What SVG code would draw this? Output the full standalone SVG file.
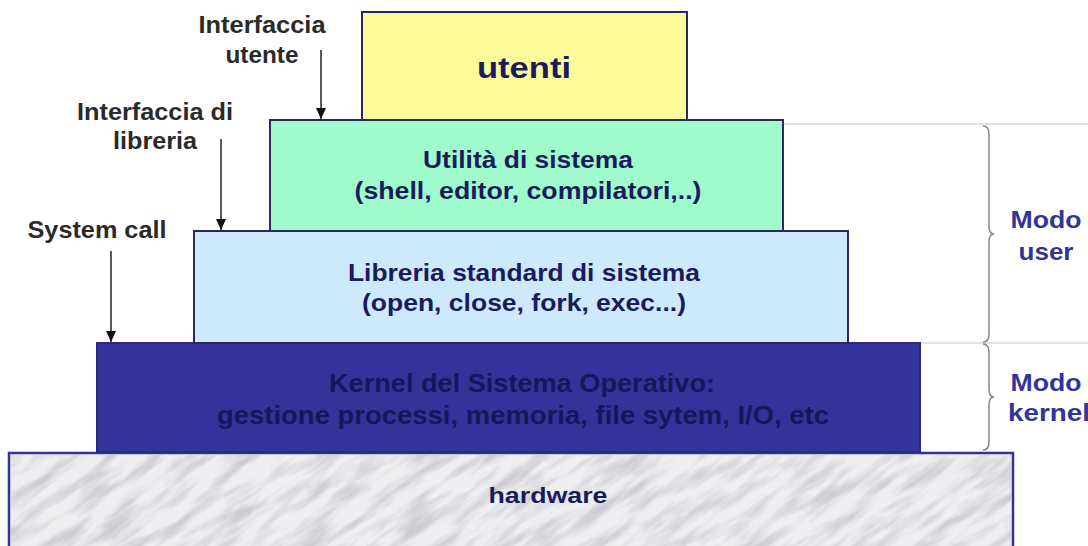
<svg xmlns="http://www.w3.org/2000/svg" width="1088" height="546" viewBox="0 0 1088 546">
<style>
.box{stroke:#2a2a5a;stroke-width:2}
.lbl{font-family:"Liberation Sans",Arial,sans-serif;font-weight:bold;text-anchor:middle}
.side{font-size:24px;fill:#2a2a2a}
.boxt{font-size:24px;fill:#1a1a5c}
.kt{font-size:25px;fill:#16165e}
.mode{font-size:24px;fill:#333399}
.arr{stroke:#222;stroke-width:1.5;fill:none}
.guide{stroke:#d8d8d8;stroke-width:1.5}
.brace{stroke:#888;stroke-width:1.5;fill:none}
</style>
<defs>
<marker id="ah" markerWidth="11" markerHeight="10" refX="11" refY="5" orient="auto" markerUnits="userSpaceOnUse" viewBox="0 0 11 10">
<path d="M0,0 L11,5 L0,10 z" fill="#111"/>
</marker>
<filter id="marble" x="0" y="0" width="100%" height="100%">
<feTurbulence type="fractalNoise" baseFrequency="0.02 0.09" numOctaves="4" seed="7" result="n"/>
<feColorMatrix in="n" type="matrix" values="0 0 0 0 0.52  0 0 0 0 0.52  0 0 0 0 0.56  2.4 0 0 0 -0.95" result="c"/>
<feComposite in="c" in2="SourceGraphic" operator="in"/>
</filter>
<clipPath id="hwclip"><rect x="10" y="454" width="1002" height="98"/></clipPath>
</defs>
<rect width="1088" height="546" fill="#ffffff"/>
<g id="guides">
<line class="guide" x1="783" y1="124" x2="1088" y2="124"/>
<line class="guide" x1="920" y1="343" x2="1088" y2="343"/>
</g>
<g id="hardware">
<rect x="9" y="453" width="1004" height="100" fill="#efeff1" stroke="#333399" stroke-width="2.5"/>
<g clip-path="url(#hwclip)">
<rect x="-200" y="100" width="1500" height="800" fill="#fff" filter="url(#marble)" opacity="0.75" transform="rotate(-35 510 500)"/>
</g>
<text class="lbl boxt" x="548" y="503" style="font-size:22px" textLength="119" lengthAdjust="spacingAndGlyphs">hardware</text>
</g>
<g id="kernel">
<rect x="97" y="343" width="823" height="109" fill="#333399" stroke="#2a2a7a" stroke-width="2"/>
<text class="lbl kt" x="522" y="392" textLength="386" lengthAdjust="spacingAndGlyphs">Kernel del Sistema Operativo:</text>
<text class="lbl kt" x="523" y="424" textLength="612" lengthAdjust="spacingAndGlyphs">gestione processi, memoria, file sytem, I/O, etc</text>
</g>
<g id="libreria">
<rect class="box" x="194" y="231" width="654" height="112" fill="#cde9fb"/>
<text class="lbl boxt" x="524" y="281" textLength="352" lengthAdjust="spacingAndGlyphs">Libreria standard di sistema</text>
<text class="lbl boxt" x="524" y="311" textLength="324" lengthAdjust="spacingAndGlyphs">(open, close, fork, exec...)</text>
</g>
<g id="utilita">
<rect class="box" x="270" y="120" width="513" height="111" fill="#9ffbcb"/>
<text class="lbl boxt" x="528" y="168" textLength="210" lengthAdjust="spacingAndGlyphs">Utilità di sistema</text>
<text class="lbl boxt" x="528" y="199" textLength="347" lengthAdjust="spacingAndGlyphs">(shell, editor, compilatori,..)</text>
</g>
<g id="utenti">
<rect class="box" x="362" y="12" width="325" height="108" fill="#fdfb99"/>
<text class="lbl boxt" x="524" y="78" style="font-size:29px" textLength="94" lengthAdjust="spacingAndGlyphs">utenti</text>
</g>
<g id="label-interfaccia-utente">
<text class="lbl side" x="262" y="33" textLength="127" lengthAdjust="spacingAndGlyphs">Interfaccia</text>
<text class="lbl side" x="262" y="63" textLength="73" lengthAdjust="spacingAndGlyphs">utente</text>
</g>
<g id="label-interfaccia-libreria">
<text class="lbl side" x="155" y="120" textLength="156" lengthAdjust="spacingAndGlyphs">Interfaccia di</text>
<text class="lbl side" x="155" y="149" textLength="84" lengthAdjust="spacingAndGlyphs">libreria</text>
</g>
<g id="label-system-call">
<text class="lbl side" x="97" y="238" textLength="139" lengthAdjust="spacingAndGlyphs">System call</text>
</g>
<g id="modo-user">
<text class="lbl mode" x="1046" y="228" textLength="71" lengthAdjust="spacingAndGlyphs">Modo</text>
<text class="lbl mode" x="1046" y="260" textLength="55" lengthAdjust="spacingAndGlyphs">user</text>
</g>
<g id="modo-kernel">
<text class="lbl mode" x="1046" y="391" textLength="71" lengthAdjust="spacingAndGlyphs">Modo</text>
<text class="lbl mode" x="1008" y="421" style="text-anchor:start" textLength="82" lengthAdjust="spacingAndGlyphs">kernel</text>
</g>
<g id="connectors">
<line class="arr" x1="321" y1="50" x2="321" y2="119" marker-end="url(#ah)"/>
<line class="arr" x1="221" y1="139" x2="221" y2="230" marker-end="url(#ah)"/>
<line class="arr" x1="111" y1="251" x2="111" y2="342" marker-end="url(#ah)"/>
<path class="brace" d="M983,126 Q989,126 989,134 L989,226 Q989,234 994,234 Q989,234 989,242 L989,334 Q989,342 983,342"/>
<path class="brace" d="M983,344 Q989,344 989,352 L989,389 Q989,397 994,397 Q989,397 989,405 L989,442 Q989,450 983,450"/>
</g>
</svg>
